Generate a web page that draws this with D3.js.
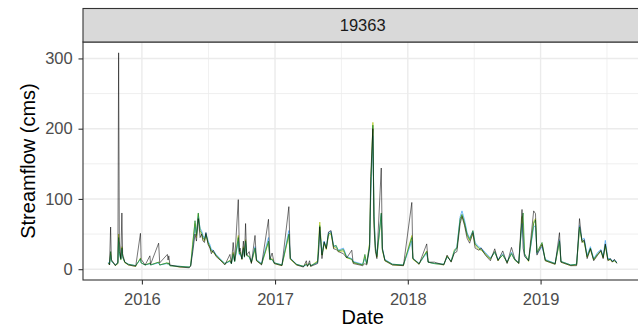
<!DOCTYPE html>
<html>
<head>
<meta charset="utf-8">
<script src="https://cdn.jsdelivr.net/npm/d3@7"></script>
<style>
  body { margin: 0; background: #ffffff; }
  svg { display: block; }
  text { font-family: "Liberation Sans", Arial, Helvetica, sans-serif; }
</style>
</head>
<body>
<svg id="chart" width="638" height="329"></svg>
<script>
// Daily streamflow at gauge 19363, sampled at peaks and recession points (cms)
const dates = [
  "2015-10-01","2015-10-04","2015-10-07","2015-10-09","2015-10-20","2015-10-27","2015-10-29","2015-10-31",
  "2015-11-04","2015-11-07","2015-11-09","2015-11-15","2015-11-25","2015-12-15","2015-12-28","2015-12-30",
  "2016-01-10","2016-01-23","2016-01-25","2016-02-16","2016-02-19","2016-03-11","2016-03-13","2016-03-15",
  "2016-03-18","2016-04-15","2016-05-10","2016-05-14","2016-05-20","2016-05-26","2016-05-30","2016-06-04",
  "2016-06-09","2016-06-13","2016-06-17","2016-06-21","2016-06-25","2016-07-01","2016-07-06","2016-07-10",
  "2016-07-15","2016-07-23","2016-08-03","2016-08-16","2016-08-30","2016-09-03","2016-09-08","2016-09-12",
  "2016-09-22","2016-09-25","2016-09-27","2016-10-02","2016-10-06","2016-10-09","2016-10-12","2016-10-15",
  "2016-10-22","2016-10-28","2016-11-07","2016-11-11","2016-11-25","2016-12-14","2016-12-18","2016-12-24",
  "2016-12-30","2017-01-20","2017-02-08","2017-02-12","2017-03-01","2017-03-20","2017-03-28","2017-03-31",
  "2017-04-06","2017-04-09","2017-04-28","2017-05-01","2017-05-04","2017-05-10","2017-05-16","2017-05-22",
  "2017-05-28","2017-06-04","2017-06-11","2017-06-18","2017-06-24","2017-07-08","2017-07-17","2017-07-31",
  "2017-08-04","2017-08-30","2017-09-05","2017-09-10","2017-09-18","2017-09-21","2017-09-27","2017-09-30",
  "2017-10-04","2017-10-08","2017-10-20","2017-10-23","2017-10-30","2017-11-20","2017-12-20","2018-01-12",
  "2018-01-15","2018-02-01","2018-02-22","2018-02-26","2018-03-15","2018-04-10","2018-04-19","2018-04-30",
  "2018-05-09","2018-05-16","2018-05-25","2018-05-30","2018-06-06","2018-06-13","2018-06-20","2018-06-29",
  "2018-07-05","2018-07-15","2018-07-22","2018-08-02","2018-08-16","2018-08-28","2018-09-06","2018-09-19",
  "2018-10-01","2018-10-13","2018-10-22","2018-11-02","2018-11-11","2018-11-14","2018-11-18","2018-11-29",
  "2018-12-13","2018-12-18","2018-12-22","2019-01-05","2019-01-14","2019-02-10","2019-02-22","2019-02-26",
  "2019-03-25","2019-04-10","2019-04-18","2019-04-25","2019-05-01","2019-05-09","2019-05-18","2019-05-27",
  "2019-06-07","2019-06-16","2019-06-22","2019-06-28","2019-07-05","2019-07-12","2019-07-17","2019-07-23",
  "2019-07-30"
];

// Observed flow
const observed = [
  8,6,60,14,5,10,308,40, 15,80,22,10,6,4,51,14,
  6,19,7,37,9,21,13,19, 6,3,2,4,25,50,40,72,
  45,50,40,38,52,35,30,22, 27,18,13,6,21,8,38,12,
  99,25,30,14,40,18,65,20, 25,8,48,12,6,71,14,23,
  8,5,89,15,6,3,12,4, 12,4,8,25,60,15,39,29,
  53,55,29,28,25,22,16,27, 8,5,8,6,30,132,200,60,
  25,15,144,30,12,6,5,95, 15,7,36,10,10,6,20,10,
  23,25,65,75,62,44,37,52, 30,27,30,20,12,29,12,26,
  8,31,15,8,85,30,18,12, 83,79,20,35,12,7,52,10,
  5,5,72,38,42,15,29,12, 20,27,15,36,12,15,10,14,
  8
];

// Simulated flow, run A
const simGreen = [
  9,7,25,12,6,8,45,25, 14,30,18,10,7,5,15,9,
  6,8,6,10,6,9,7,9, 5,4,3,5,35,69,48,80,
  55,52,45,42,50,38,32,26, 25,20,14,8,12,8,22,11,
  45,22,24,15,30,18,40,20, 18,10,30,13,7,40,14,14,
  9,6,50,15,7,4,7,5, 8,5,10,35,62,20,38,30,
  50,52,32,34,26,28,17,14, 10,6,21,8,35,110,205,75,
  30,18,80,28,13,7,6,45, 15,8,25,10,8,7,18,11,
  25,30,72,78,66,50,42,55, 36,30,28,22,15,24,13,20,
  10,22,13,9,70,80,22,12, 65,70,24,38,13,8,40,11,
  6,7,60,40,40,18,30,14, 22,26,17,35,14,14,11,12,
  9
];

// Simulated flow, run B
const simBlue = [
  10,7,20,11,6,9,40,22, 14,28,17,10,7,5,14,9,
  6,8,6,9,6,8,7,8, 5,4,3,5,30,60,50,75,
  58,55,48,44,52,40,35,28, 27,21,15,8,11,8,20,11,
  40,20,22,15,28,17,38,20, 17,10,32,14,8,45,15,13,
  9,6,55,16,7,4,6,5, 7,5,9,30,55,22,40,31,
  52,54,34,32,27,30,18,15, 11,7,15,8,32,100,190,80,
  32,20,78,30,14,7,6,40, 16,8,23,10,8,7,17,12,
  26,32,75,83,70,52,44,54, 38,32,30,24,16,25,14,22,
  10,24,14,9,65,45,20,12, 60,62,22,32,14,8,42,11,
  6,7,62,42,44,20,32,15, 24,28,18,41,15,15,12,13,
  10
];

// Simulated flow, run C
const simYellow = [
  9,6,22,12,5,8,50,26, 13,32,18,9,6,4,16,9,
  6,9,6,10,6,9,7,9, 5,3,3,5,40,65,45,78,
  52,50,42,40,48,37,31,25, 24,19,13,7,13,8,24,11,
  48,22,25,14,32,17,42,19, 18,9,28,12,7,38,13,15,
  8,5,48,14,6,4,8,4, 8,4,12,40,67,20,36,28,
  48,50,30,31,25,26,16,14, 9,6,18,7,38,115,209,70,
  28,17,75,27,12,6,5,48, 14,7,26,10,8,6,19,11,
  28,30,70,76,64,48,40,50, 34,28,27,21,14,26,12,21,
  9,23,13,8,75,60,21,11, 68,72,23,36,12,7,38,10,
  5,6,58,39,38,17,28,13, 21,25,16,33,13,13,11,12,
  9
];

const yTicks = [0, 100, 200, 300];
const yMinorTicks = [50, 150, 250];
const xTickYears = ["2016-01-01", "2017-01-01", "2018-01-01", "2019-01-01"];
const stationLabel = "19363";
const xTitle = "Date";
const yTitle = "Streamflow (cms)";

const seriesDefs = [
  { values: simYellow, color: "#b2c81e", width: 0.8, opacity: 0.95 },
  { values: simBlue,   color: "#49a6f5", width: 0.8, opacity: 0.95 },
  { values: simGreen,  color: "#1f8a2a", width: 0.8, opacity: 0.95 },
  { values: observed,  color: "#000000", width: 0.75, opacity: 0.72 }
];

const parse = d3.timeParse("%Y-%m-%d");
const times = dates.map(parse);

const svg = d3.select("#chart");
const panel = { left: 83, top: 42, right: 642.4, bottom: 280 };
const strip = { top: 8.5, bottom: 42 };

// ggplot-style 5% expansion on both axes
const tExt = d3.extent(times);
const tSpan = tExt[1] - tExt[0];
const x = d3.scaleTime()
  .domain([new Date(+tExt[0] - 0.05 * tSpan), new Date(+tExt[1] + 0.05 * tSpan)])
  .range([panel.left, panel.right]);

const allVals = seriesDefs.flatMap(s => s.values);
const vMin = Math.min(0, d3.min(allVals));
const vMax = d3.max(allVals);
const vSpan = vMax - vMin;
const y = d3.scaleLinear()
  .domain([vMin - 0.05 * vSpan, vMax + 0.05 * vSpan])
  .range([panel.bottom, panel.top]);

// panel background
svg.append("rect")
  .attr("x", panel.left).attr("y", panel.top)
  .attr("width", panel.right - panel.left).attr("height", panel.bottom - panel.top)
  .attr("fill", "#ffffff");

const majorX = xTickYears.map(parse);
const minorX = [];
for (let i = 0; i < majorX.length; i++) {
  const next = i + 1 < majorX.length ? majorX[i + 1] : d3.timeYear.offset(majorX[i], 1);
  minorX.push(new Date((+majorX[i] + +next) / 2));
}

const grid = svg.append("g");
grid.selectAll(".ymin").data(yMinorTicks).join("line")
  .attr("x1", panel.left).attr("x2", panel.right)
  .attr("y1", d => y(d)).attr("y2", d => y(d))
  .attr("stroke", "#ebebeb").attr("stroke-width", 0.75);
grid.selectAll(".xmin").data(minorX.filter(d => x(d) > panel.left && x(d) < panel.right)).join("line")
  .attr("x1", d => x(d)).attr("x2", d => x(d))
  .attr("y1", panel.top).attr("y2", panel.bottom)
  .attr("stroke", "#ebebeb").attr("stroke-width", 0.75);
grid.selectAll(".ymaj").data(yTicks).join("line")
  .attr("x1", panel.left).attr("x2", panel.right)
  .attr("y1", d => y(d)).attr("y2", d => y(d))
  .attr("stroke", "#ebebeb").attr("stroke-width", 1.4);
grid.selectAll(".xmaj").data(majorX).join("line")
  .attr("x1", d => x(d)).attr("x2", d => x(d))
  .attr("y1", panel.top).attr("y2", panel.bottom)
  .attr("stroke", "#ebebeb").attr("stroke-width", 1.4);

// hydrograph lines
svg.append("clipPath").attr("id", "panelClip")
  .append("rect")
  .attr("x", panel.left).attr("y", panel.top)
  .attr("width", panel.right - panel.left).attr("height", panel.bottom - panel.top);

const line = d3.line()
  .x((d, i) => x(times[i]))
  .y(d => y(d));

const lines = svg.append("g").attr("clip-path", "url(#panelClip)");
seriesDefs.forEach(s => {
  lines.append("path")
    .datum(s.values)
    .attr("d", line)
    .attr("fill", "none")
    .attr("stroke", s.color)
    .attr("stroke-width", s.width)
    .attr("stroke-opacity", s.opacity)
    .attr("stroke-linejoin", "round");
});

// panel border
svg.append("rect")
  .attr("x", panel.left).attr("y", panel.top)
  .attr("width", panel.right - panel.left).attr("height", panel.bottom - panel.top)
  .attr("fill", "none").attr("stroke", "#333333").attr("stroke-width", 1.1);

// facet strip
svg.append("rect")
  .attr("x", panel.left).attr("y", strip.top)
  .attr("width", panel.right - panel.left).attr("height", strip.bottom - strip.top)
  .attr("fill", "#d9d9d9").attr("stroke", "#333333").attr("stroke-width", 1.1);
svg.append("text")
  .attr("x", (panel.left + panel.right) / 2)
  .attr("y", (strip.top + strip.bottom) / 2)
  .attr("dy", "0.35em")
  .attr("text-anchor", "middle")
  .attr("font-size", "16.5px")
  .attr("fill", "#1a1a1a")
  .text(stationLabel);

// axes
const xAxis = svg.append("g")
  .attr("transform", `translate(0,${panel.bottom})`)
  .call(d3.axisBottom(x).tickValues(majorX).tickFormat(d3.timeFormat("%Y")).tickSize(4.5).tickPadding(9));
const yAxis = svg.append("g")
  .attr("transform", `translate(${panel.left},0)`)
  .call(d3.axisLeft(y).tickValues(yTicks).tickFormat(d3.format("d")).tickSize(4.5).tickPadding(5.8));

[xAxis, yAxis].forEach(a => {
  a.select(".domain").remove();
  a.selectAll(".tick line").attr("stroke", "#333333").attr("stroke-width", 1.1);
  a.selectAll(".tick text")
    .attr("fill", "#4d4d4d")
    .attr("font-size", "16.5px")
    .attr("font-family", '"Liberation Sans", Arial, Helvetica, sans-serif');
});

// axis titles
svg.append("text")
  .attr("x", (panel.left + panel.right) / 2)
  .attr("y", 323.5)
  .attr("text-anchor", "middle")
  .attr("font-size", "20px")
  .attr("fill", "#000000")
  .text(xTitle);
svg.append("text")
  .attr("transform", `translate(35,${(panel.top + panel.bottom) / 2}) rotate(-90)`)
  .attr("text-anchor", "middle")
  .attr("font-size", "20px")
  .attr("fill", "#000000")
  .text(yTitle);
</script>
</body>
</html>
